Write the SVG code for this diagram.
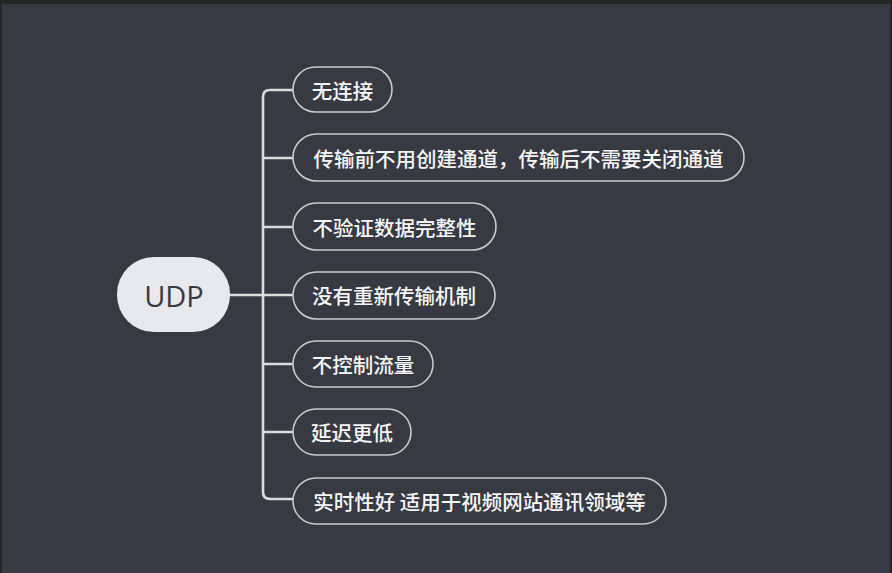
<svg xmlns="http://www.w3.org/2000/svg" width="892" height="573" viewBox="0 0 892 573">
<style>
.pill{fill:#373a42;stroke:#c9cacd;stroke-width:1.6}
.t{font-family:"Noto Sans CJK SC","Noto Sans",sans-serif;font-size:20.5px;font-weight:500;fill:#f6f6f8;text-anchor:middle;dominant-baseline:central}
.c{fill:none;stroke:#dcdcdf;stroke-width:2.6;stroke-linecap:round;stroke-linejoin:round}
</style>
<rect x="0" y="0" width="892" height="573" fill="#252628"/>
<rect x="2" y="4" width="888" height="569" fill="#373a42"/>
<g id="connectors">
<path class="c" d="M230 295 H263"/>
<path class="c" d="M293 90 H270 Q263 90 263 97 V492 Q263 499 270 499 H293"/>
<path class="c" d="M263 158 H293 M263 227 H293 M263 295 H293 M263 364 H293 M263 432 H293"/>
</g>
<g id="udp">
<rect x="117" y="257" width="113" height="75" rx="37" fill="#e8e9ee"/>
<text x="174" y="295" font-family="Open Sans,Noto Sans,sans-serif" font-size="29" fill="#3a3b40" text-anchor="middle" dominant-baseline="central">UDP</text>
</g>
<g id="n1"><rect class="pill" x="293" y="67" width="99" height="45" rx="22.5"/><text class="t" x="342.5" y="90">无连接</text></g>
<g id="n2"><rect class="pill" x="293" y="134" width="451" height="47" rx="23.5"/><text class="t" x="518.5" y="158">传输前不用创建通道，传输后不需要关闭通道</text></g>
<g id="n3"><rect class="pill" x="293" y="203" width="203" height="47" rx="23.5"/><text class="t" x="394.5" y="227">不验证数据完整性</text></g>
<g id="n4"><rect class="pill" x="293" y="272" width="202" height="47" rx="23.5"/><text class="t" x="394" y="295">没有重新传输机制</text></g>
<g id="n5"><rect class="pill" x="293" y="341" width="140" height="46" rx="23"/><text class="t" x="363" y="364">不控制流量</text></g>
<g id="n6"><rect class="pill" x="293" y="409" width="118" height="46" rx="23"/><text class="t" x="352" y="432">延迟更低</text></g>
<g id="n7"><rect class="pill" x="293" y="478" width="373" height="46" rx="23"/><text class="t" x="479.5" y="501">实时性好 适用于视频网站通讯领域等</text></g>
</svg>
